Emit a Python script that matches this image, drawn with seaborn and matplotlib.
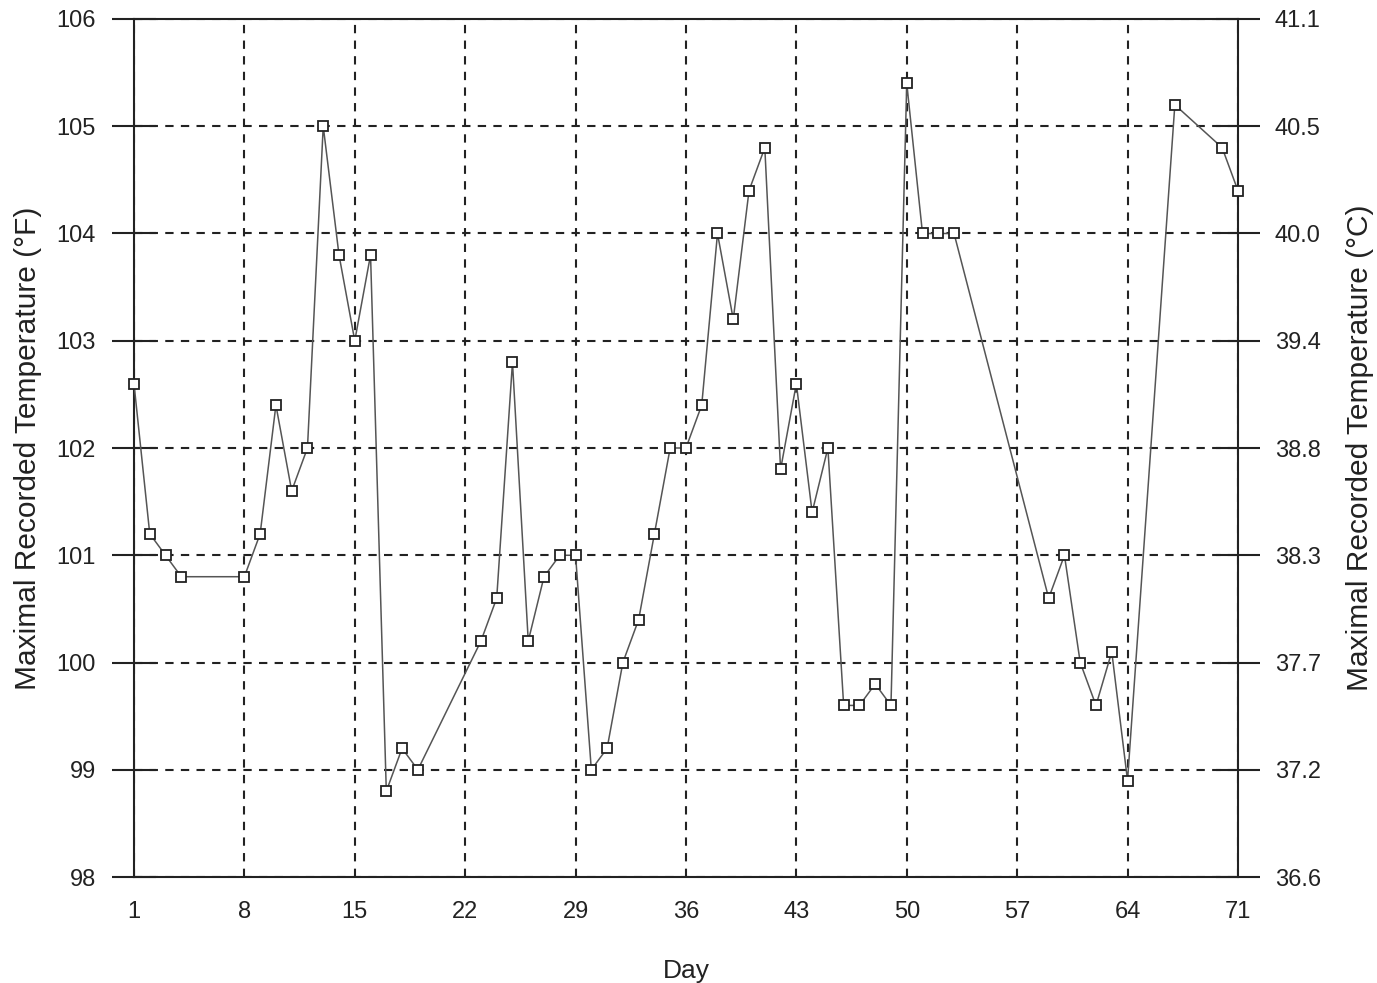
import matplotlib
matplotlib.use("Agg")
import matplotlib.pyplot as plt
import seaborn as sns
import pandas as pd

# Day of observation and maximal recorded temperature (°F)
days = [1, 2, 3, 4, 8, 9, 10, 11, 12, 13, 14, 15, 16, 17, 18, 19,
        23, 24, 25, 26, 27, 28, 29, 30, 31, 32, 33, 34, 35, 36, 37, 38,
        39, 40, 41, 42, 43, 44, 45, 46, 47, 48, 49, 50, 51, 52, 53,
        59, 60, 61, 62, 63, 64, 67, 70, 71]
temp_f = [102.6, 101.2, 101.0, 100.8, 100.8, 101.2, 102.4, 101.6, 102.0, 105.0, 103.8, 103.0, 103.8, 98.8, 99.2, 99.0,
          100.2, 100.6, 102.8, 100.2, 100.8, 101.0, 101.0, 99.0, 99.2, 100.0, 100.4, 101.2, 102.0, 102.0, 102.4, 104.0,
          103.2, 104.4, 104.8, 101.8, 102.6, 101.4, 102.0, 99.6, 99.6, 99.8, 99.6, 105.4, 104.0, 104.0, 104.0,
          100.6, 101.0, 100.0, 99.6, 100.1, 98.9, 105.2, 104.8, 104.4]

x_ticks = [1, 8, 15, 22, 29, 36, 43, 50, 57, 64, 71]
f_ticks = [98, 99, 100, 101, 102, 103, 104, 105, 106]
c_labels = ["36.6", "37.2", "37.7", "38.3", "38.8", "39.4", "40.0", "40.5", "41.1"]

df = pd.DataFrame({"day": days, "temp": temp_f})

sns.set_style("white")
plt.rcParams["font.family"] = ["Liberation Sans", "DejaVu Sans"]

fig = plt.figure(figsize=(13.77, 9.83), dpi=100)
ax = fig.add_axes([0.0973, 0.1078, 0.8017, 0.8729])

sns.lineplot(data=df, x="day", y="temp", ax=ax, color="#555555", linewidth=1.1,
             marker="s", markersize=7, markerfacecolor="white",
             markeredgecolor="#222222", markeredgewidth=1.3, clip_on=False, zorder=5)

ax.set_xlim(1, 71)
ax.set_ylim(98, 106)
ax.set_xticks(x_ticks)
ax.set_yticks(f_ticks)
ax.grid(True, color="#222222", linestyle=(0, (4, 3.5)), linewidth=1.5)

for side in ["left", "right", "top", "bottom"]:
    ax.spines[side].set_color("#222222")
    ax.spines[side].set_linewidth(1.5)

ax.tick_params(axis="y", direction="inout", length=31, width=1.5, color="#222222",
               labelsize=17, pad=12, labelcolor="#222222")
ax.tick_params(axis="x", direction="inout", length=28, width=1.5, color="#222222",
               labelsize=17, pad=3, labelcolor="#222222")
ax.set_xlabel("Day", fontsize=19, color="#222222", labelpad=26)
ax.set_ylabel("Maximal Recorded Temperature (°F)", fontsize=21.5, color="#222222", labelpad=10)

ax2 = ax.twinx()
ax2.set_ylim(98, 106)
ax2.set_yticks(f_ticks)
ax2.set_yticklabels(c_labels)
ax2.tick_params(axis="y", direction="inout", length=31, width=1.5, color="#222222",
                labelsize=17, pad=11, labelcolor="#222222")
ax2.set_ylabel("Maximal Recorded Temperature (°C)", fontsize=21.5, color="#222222", labelpad=18)
for side in ["left", "right", "top", "bottom"]:
    ax2.spines[side].set_visible(False)

fig.savefig("out.png", dpi=100)
